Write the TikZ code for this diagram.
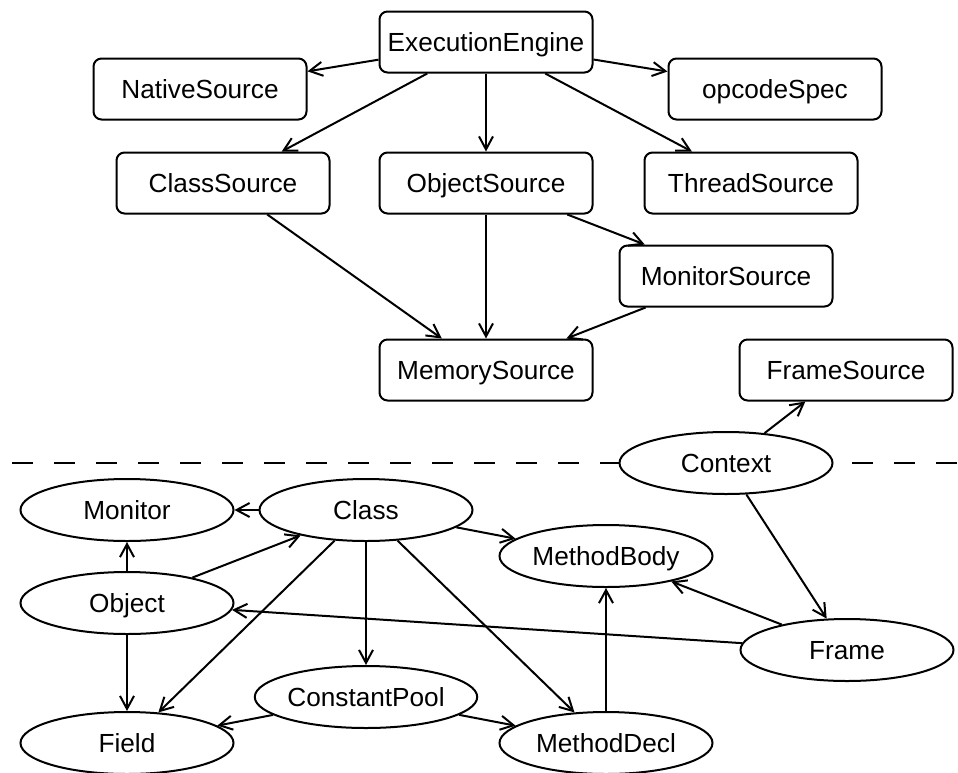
\documentclass[tikz,border=0pt]{standalone}
\usepackage{fontspec}
\setmainfont{Liberation Sans}
\usetikzlibrary{shapes.geometric,arrows.meta}
\tikzset{
  srcbox/.style={draw, line width=1pt, rounded corners=4pt, fill=white,
    minimum width=106.5pt, minimum height=30.5pt, inner xsep=3pt,
    text height=9.4pt, text depth=0pt},
  objell/.style={draw, line width=1pt, ellipse, fill=white,
    minimum width=106.5pt, minimum height=31pt, inner sep=0pt,
    text height=9.4pt, text depth=0pt},
  dep/.style={line width=1pt, -{Straight Barb[length=6.5pt,width=7pt]}}
}
\begin{document}
\begin{tikzpicture}[x=0.5pt, y=-0.5pt, font=\fontsize{13.1}{15.7}\selectfont]
        \useasboundingbox (0,0) rectangle (958,772);
        \draw [line width=1pt, dash pattern=on 10.5pt off 10.5pt] (12,463) -- (958,463);
        \node [srcbox] (engine) at (486,42) {ExecutionEngine};
        \node [srcbox] (native) at (200,89) {NativeSource};
        \node [srcbox] (opcode) at (775,89) {opcodeSpec};
        \node [srcbox] (classsrc) at (223,183) {ClassSource};
        \node [srcbox] (objsrc) at (486,183) {ObjectSource};
        \node [srcbox] (threadsrc) at (751,183) {ThreadSource};
        \node [srcbox] (monsrc) at (726,276) {MonitorSource};
        \node [srcbox] (memsrc) at (486,370) {MemorySource};
        \node [srcbox] (framesrc) at (846,370) {FrameSource};
        \node [objell] (context) at (726,463) {Context};
        \node [objell] (monitor) at (127,510) {Monitor};
        \node [objell] (class) at (366,510) {Class};
        \node [objell] (mbody) at (606,556) {MethodBody};
        \node [objell] (object) at (127,603) {Object};
        \node [objell] (frame) at (847,650) {Frame};
        \node [objell] (cpool) at (366,697) {ConstantPool};
        \node [objell] (field) at (127,743) {Field};
        \node [objell] (mdecl) at (606,743) {MethodDecl};
        \draw [dep] (engine) -- (native);
        \draw [dep] (engine) -- (opcode);
        \draw [dep] (engine) -- (classsrc);
        \draw [dep] (engine) -- (objsrc);
        \draw [dep] (engine) -- (threadsrc);
        \draw [dep] (classsrc) -- (memsrc);
        \draw [dep] (objsrc) -- (memsrc);
        \draw [dep] (objsrc) -- (monsrc);
        \draw [dep] (monsrc) -- (memsrc);
        \draw [dep] (context) -- (framesrc);
        \draw [dep] (context) -- (frame);
        \draw [dep] (class) -- (monitor);
        \draw [dep] (class) -- (mbody);
        \draw [dep] (class) -- (field);
        \draw [dep] (class) -- (cpool);
        \draw [dep] (class) -- (mdecl);
        \draw [dep] (object) -- (monitor);
        \draw [dep] (object) -- (class);
        \draw [dep] (object) -- (field);
        \draw [dep] (frame) -- (mbody);
        \draw [dep] (frame) -- (object);
        \draw [dep] (cpool) -- (field);
        \draw [dep] (cpool) -- (mdecl);
        \draw [dep] (mdecl) -- (mbody);
    \end{tikzpicture}
\end{document}
